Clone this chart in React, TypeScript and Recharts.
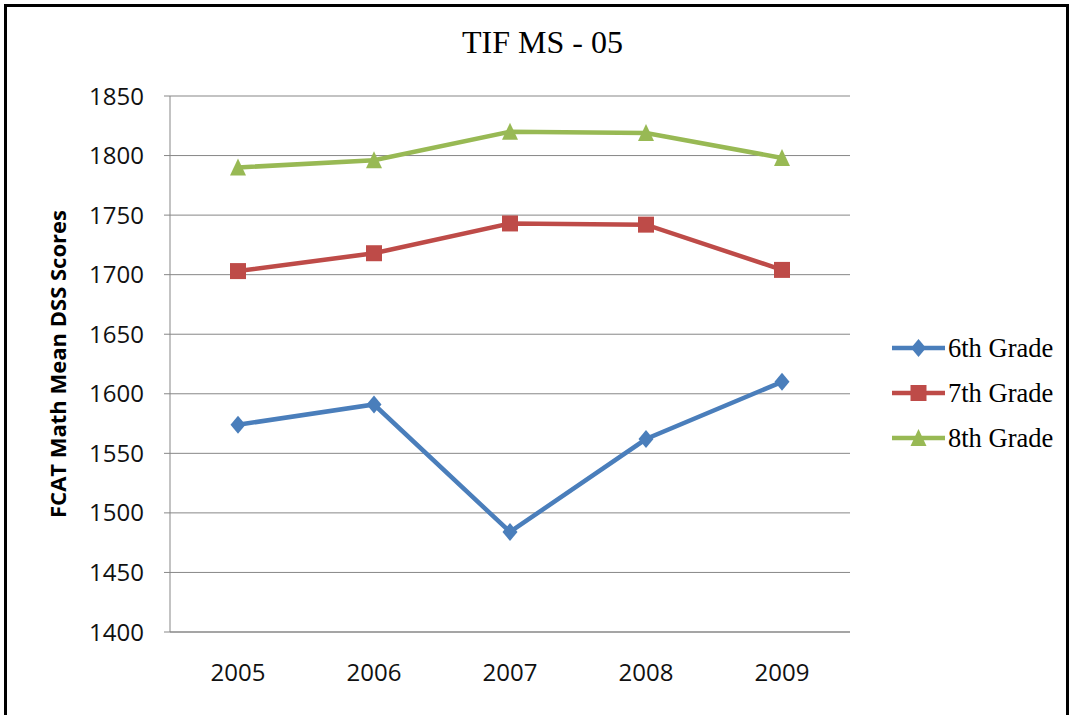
import React from "react";
import { LineChart, Line, XAxis, YAxis, CartesianGrid } from "recharts";

// Years on the category axis
const years = ["2005", "2006", "2007", "2008", "2009"];

// FCAT Math mean DSS scores per grade
const grade6 = [1574, 1591, 1484, 1562, 1610];
const grade7 = [1703, 1718, 1743, 1742, 1704];
const grade8 = [1790, 1796, 1820, 1819, 1798];

// Value axis ticks
const yTicks = [1400, 1450, 1500, 1550, 1600, 1650, 1700, 1750, 1800, 1850];

const seriesNames = ["6th Grade", "7th Grade", "8th Grade"];
const colors = ["#4A7EBB", "#BE4B48", "#98B954"];

const data = years.map((y, i) => ({
  year: y,
  g6: grade6[i],
  g7: grade7[i],
  g8: grade8[i],
}));

type MarkerKind = "diamond" | "square" | "triangle";

function markerPath(kind: MarkerKind, cx: number, cy: number): string {
  if (kind === "diamond") {
    return `M${cx},${cy - 9} L${cx + 7.5},${cy} L${cx},${cy + 9} L${cx - 7.5},${cy} Z`;
  }
  if (kind === "square") {
    return `M${cx - 8},${cy - 8} L${cx + 8},${cy - 8} L${cx + 8},${cy + 8} L${cx - 8},${cy + 8} Z`;
  }
  return `M${cx},${cy - 9} L${cx + 8},${cy + 8} L${cx - 8},${cy + 8} Z`;
}

const makeDot = (kind: MarkerKind, color: string) => (props: any) => {
  const { cx, cy, index } = props;
  if (cx == null || cy == null) return <g key={index} />;
  return <path key={index} d={markerPath(kind, cx, cy)} fill={color} stroke="none" />;
};

const kinds: MarkerKind[] = ["diamond", "square", "triangle"];

// Legend drawn beside the plot area
const SeriesLegend = () => (
  <svg width={180} height={130} style={{ overflow: "visible", display: "block" }}>
    {seriesNames.map((name, i) => {
      const y = 15 + i * 45;
      return (
        <g key={name}>
          <line x1={0} y1={y} x2={53} y2={y} stroke={colors[i]} strokeWidth={4.5} />
          <path d={markerPath(kinds[i], 26.5, y)} fill={colors[i]} />
          <text
            x={56}
            y={y}
            dy="0.35em"
            fontFamily="'Liberation Serif', 'Times New Roman', serif"
            fontSize={26.5}
            fill="#000"
          >
            {name}
          </text>
        </g>
      );
    })}
  </svg>
);

export default function App() {
  return (
    <div
      style={{
        position: "absolute",
        left: 0,
        top: 0,
        width: 1073,
        height: 715,
        overflow: "hidden",
        background: "#fff",
      }}
    >
      <div
        style={{
          position: "absolute",
          left: 4,
          top: 4,
          width: 1059,
          height: 720,
          border: "3px solid #000",
          boxSizing: "content-box",
        }}
      />
      <div
        style={{
          position: "absolute",
          left: 0,
          top: 24,
          width: 1085,
          textAlign: "center",
          fontFamily: "'Liberation Serif', 'Times New Roman', serif",
          fontSize: 32,
          color: "#000",
          lineHeight: "36px",
        }}
      >
        TIF MS - 05
      </div>
      <div style={{ position: "absolute", left: 0, top: 0 }}>
        <LineChart
          width={1073}
          height={715}
          data={data}
          margin={{ top: 96, right: 223, bottom: 0, left: 0 }}
        >
          <CartesianGrid vertical={false} stroke="#878787" strokeWidth={1} />
          <XAxis
            dataKey="year"
            height={83}
            padding={{ left: 68, right: 68 }}
            axisLine={{ stroke: "#878787", strokeWidth: 1 }}
            tickLine={false}
            tickSize={0}
            tickMargin={32}
            tick={{ fontFamily: "'Open Sans', sans-serif", fontSize: 24, fill: "#111" }}
          />
          <YAxis
            width={170}
            domain={[1400, 1850]}
            ticks={yTicks}
            interval={0}
            axisLine={{ stroke: "#878787", strokeWidth: 1 }}
            tickLine={{ stroke: "#878787", strokeWidth: 1 }}
            tickSize={6}
            tickMargin={20}
            tick={{ fontFamily: "'Open Sans', sans-serif", fontSize: 24, fill: "#111" }}
            label={{
              value: "FCAT Math Mean DSS Scores",
              angle: -90,
              position: "insideLeft",
              offset: 0,
              dx: 58,
              style: {
                fontFamily: "'Open Sans', sans-serif",
                fontSize: 22,
                fontWeight: 700,
                fill: "#000",
                textAnchor: "middle",
              },
            }}
          />
          <Line
            type="linear"
            dataKey="g6"
            name={seriesNames[0]}
            stroke={colors[0]}
            strokeWidth={4.5}
            dot={makeDot("diamond", colors[0])}
            activeDot={false}
            isAnimationActive={false}
          />
          <Line
            type="linear"
            dataKey="g7"
            name={seriesNames[1]}
            stroke={colors[1]}
            strokeWidth={4.5}
            dot={makeDot("square", colors[1])}
            activeDot={false}
            isAnimationActive={false}
          />
          <Line
            type="linear"
            dataKey="g8"
            name={seriesNames[2]}
            stroke={colors[2]}
            strokeWidth={4.5}
            dot={makeDot("triangle", colors[2])}
            activeDot={false}
            isAnimationActive={false}
          />
        </LineChart>
      </div>
      <div style={{ position: "absolute", left: 892, top: 333 }}>
        <SeriesLegend />
      </div>
    </div>
  );
}
